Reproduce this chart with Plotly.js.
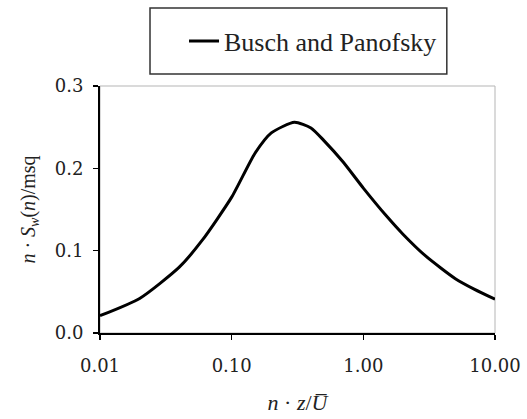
<!DOCTYPE html>
<html>
<head>
<meta charset="utf-8">
<script src="https://cdn.plot.ly/plotly-3.0.1.min.js"></script>
<style>
  html, body { margin: 0; padding: 0; background: #fff; }
  #chart { width: 527px; height: 419px; }
</style>
</head>
<body>
<div id="chart"></div>
<script>
// Normalised vertical-velocity spectrum (Busch and Panofsky form)
const seriesName = 'Busch and Panofsky';
const reducedFreq = [0.01, 0.02, 0.04, 0.06, 0.1, 0.15, 0.2, 0.3, 0.4, 0.5, 0.7, 1.0, 1.5, 2, 3, 5, 7, 10];
const spectrum    = [0.021, 0.042, 0.080, 0.113, 0.165, 0.218, 0.243, 0.256, 0.249, 0.234, 0.208, 0.176, 0.142, 0.120, 0.093, 0.066, 0.053, 0.041];

const xTickVals = [0.01, 0.1, 1, 10];
const xTickText = ['0.01', '0.10', '1.00', '10.00'];
const yTickVals = [0.0, 0.1, 0.2, 0.3];
const yTickText = ['0.0', '0.1', '0.2', '0.3'];

const serif = 'Liberation Serif, Times New Roman, serif';
const tickFont = { family: 'DejaVu Serif, serif', size: 18, color: '#222' };

const trace = {
  x: reducedFreq,
  y: spectrum,
  type: 'scatter',
  mode: 'lines',
  name: seriesName,
  line: { color: '#000', width: 3, shape: 'spline', smoothing: 0.6 },
  hoverinfo: 'skip'
};

const layout = {
  width: 527,
  height: 419,
  margin: { l: 100, r: 32, t: 86, b: 86 },
  paper_bgcolor: '#fff',
  plot_bgcolor: '#fff',
  showlegend: true,
  legend: {
    x: 0.2127, xanchor: 'left',
    y: 1.182, yanchor: 'middle',
    bgcolor: 'rgba(0,0,0,0)',
    borderwidth: 0,
    font: { family: serif, size: 26, color: '#222' }
  },
  xaxis: {
    type: 'log',
    range: [-2, 1],
    tickvals: xTickVals,
    ticktext: xTickText,
    ticks: 'outside',
    ticklen: 5,
    tickwidth: 1.5,
    tickcolor: '#000',
    ticklabelstandoff: 10,
    showgrid: false,
    zeroline: false,
    showline: true,
    linecolor: '#000',
    linewidth: 2,
    tickfont: tickFont,
    title: {
      text: '<i>n</i> · <i>z</i>/<i>U\u0305</i>',
      font: { family: serif, size: 22, color: '#222' },
      standoff: 20
    }
  },
  yaxis: {
    range: [0, 0.3],
    tickvals: yTickVals,
    ticktext: yTickText,
    ticks: 'outside',
    ticklen: 5,
    tickwidth: 1.5,
    tickcolor: '#000',
    ticklabelstandoff: 6,
    showgrid: false,
    zeroline: false,
    showline: true,
    linecolor: '#000',
    linewidth: 2,
    tickfont: tickFont,
    title: {
      text: '<i>n</i> · <i>S</i><sub><i>w</i></sub>(<i>n</i>)/msq',
      font: { family: serif, size: 20, color: '#222' },
      standoff: 14
    }
  },
  shapes: [
    // light frame around the plotting area
    {
      type: 'rect', xref: 'paper', yref: 'paper',
      x0: 0, x1: 1, y0: 0, y1: 1,
      line: { color: '#b5b5b5', width: 1 },
      layer: 'below'
    },
    // legend box
    {
      type: 'rect', xref: 'paper', yref: 'paper',
      x0: 0.1266, x1: 0.878, y0: 1.0486, y1: 1.3158,
      line: { color: '#333', width: 1.5 },
      fillcolor: 'rgba(0,0,0,0)'
    }
  ]
};

Plotly.newPlot('chart', [trace], layout, { displayModeBar: false, staticPlot: true });
</script>
</body>
</html>
